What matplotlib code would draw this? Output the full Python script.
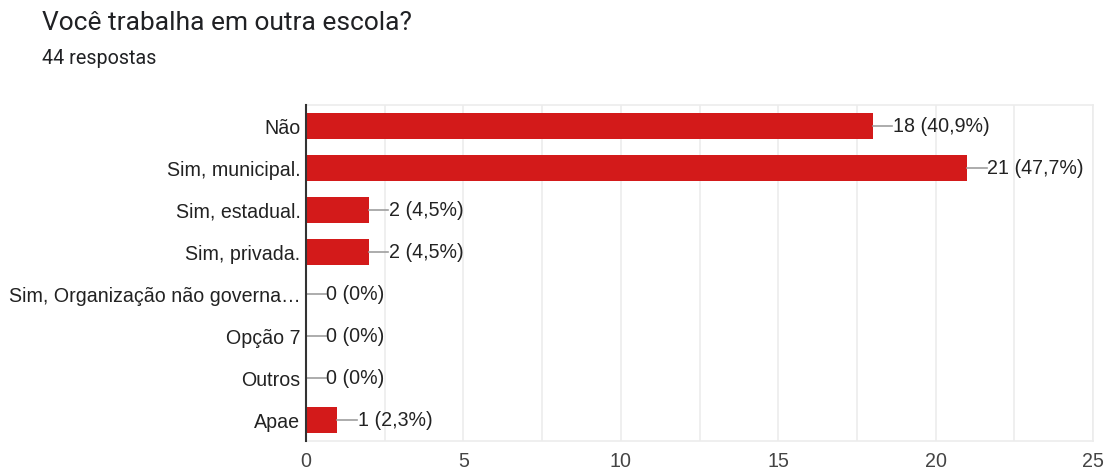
import matplotlib.pyplot as plt
from matplotlib.ticker import MultipleLocator

plt.rcParams['font.family'] = ['Liberation Sans', 'DejaVu Sans']

categorias = ["Não", "Sim, municipal.", "Sim, estadual.", "Sim, privada.",
              "Sim, Organização não governa…", "Opção 7", "Outros", "Apae"]
respostas = [18, 21, 2, 2, 0, 0, 0, 1]
rotulos = ["18 (40,9%)", "21 (47,7%)", "2 (4,5%)", "2 (4,5%)",
           "0 (0%)", "0 (0%)", "0 (0%)", "1 (2,3%)"]

fig = plt.figure(figsize=(11.05, 4.72), dpi=100)
ax = fig.add_axes([306 / 1105, 1 - 441 / 472, 787 / 1105, 336 / 472])

y = list(range(len(categorias)))
ax.barh(y, respostas, height=0.64, color='#d31a1a', zorder=3)

for yi, v, r in zip(y, respostas, rotulos):
    ax.plot([v, v + 0.62], [yi, yi], color='#9e9e9e', lw=1.2, zorder=3)
    ax.text(v + 0.64, yi, r, va='center', ha='left', fontsize=14.1, color='#222222')

ax.set_xlim(0, 25)
ax.set_ylim(len(categorias) - 0.5, -0.5)
ax.set_yticks(y)
ax.set_yticklabels(categorias, fontsize=14.1, color='#222222')
ax.xaxis.set_major_locator(MultipleLocator(5))
ax.xaxis.set_minor_locator(MultipleLocator(2.5))
ax.tick_params(axis='x', which='both', length=0, labelsize=14.1, labelcolor='#444444', pad=8)
ax.tick_params(axis='y', length=0, pad=4)
ax.grid(axis='x', which='both', color='#ececec', lw=1.2, zorder=0)

for s in ['top', 'bottom', 'right']:
    ax.spines[s].set_color('#ececec')
    ax.spines[s].set_linewidth(1.2)
ax.spines['left'].set_color('#333333')
ax.spines['left'].set_linewidth(1.5)
ax.spines['left'].set_zorder(4)

fig.text(42 / 1105, 1 - 23 / 472, "Você trabalha em outra escola?", fontsize=19,
         color='#202124', va='center', ha='left', family=['Roboto', 'DejaVu Sans'])
fig.text(42 / 1105, 1 - 59 / 472, "44 respostas", fontsize=14.2,
         color='#202124', va='center', ha='left', family=['Roboto', 'DejaVu Sans'])

fig.savefig('out.png', dpi=100)
